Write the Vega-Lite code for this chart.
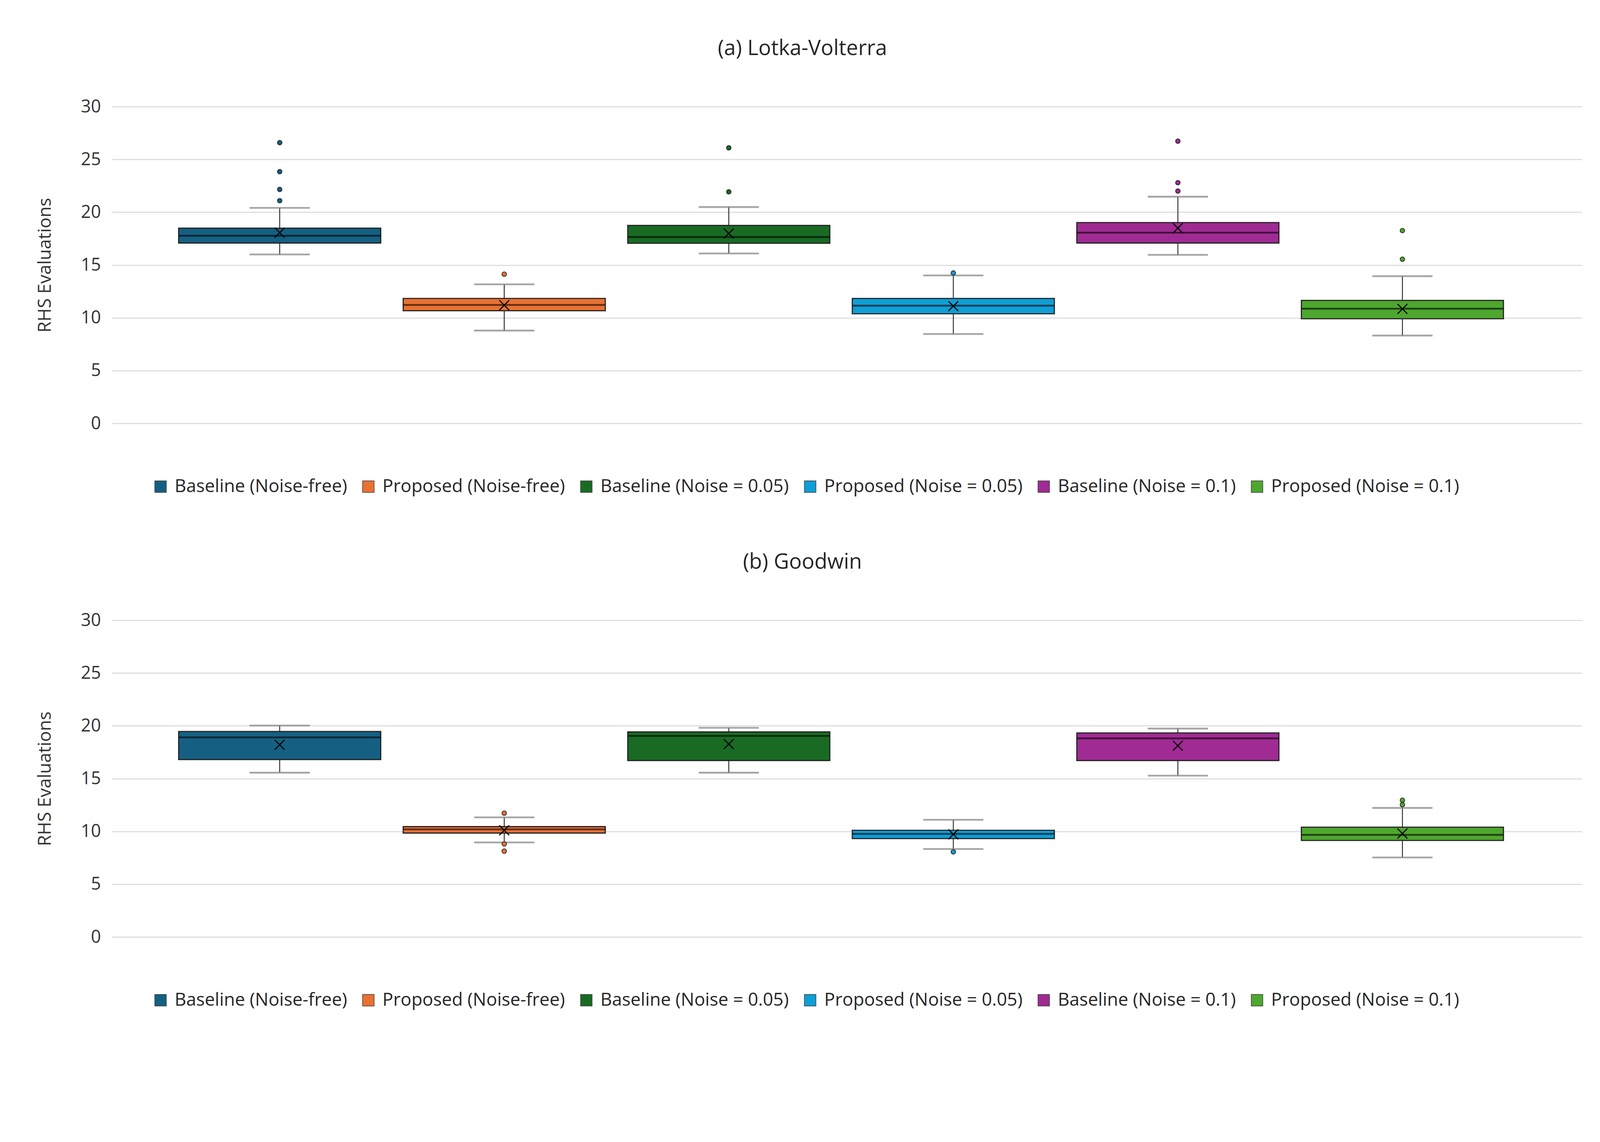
{
  "$schema": "https://vega.github.io/schema/vega-lite/v6.json",
  "background": "white",
  "padding": {"left": 92, "top": 98, "right": 20, "bottom": 30},
  "datasets": {
    "boxes": [
      {"panel": "LV", "series": "Baseline (Noise-free)", "lo": 16.0, "q1": 17.08, "med": 17.77, "q3": 18.49, "hi": 20.41, "mean": 18.06},
      {"panel": "LV", "series": "Proposed (Noise-free)", "lo": 8.79, "q1": 10.67, "med": 11.22, "q3": 11.83, "hi": 13.17, "mean": 11.19},
      {"panel": "LV", "series": "Baseline (Noise = 0.05)", "lo": 16.09, "q1": 17.06, "med": 17.65, "q3": 18.75, "hi": 20.49, "mean": 17.98},
      {"panel": "LV", "series": "Proposed (Noise = 0.05)", "lo": 8.46, "q1": 10.38, "med": 11.15, "q3": 11.83, "hi": 14.01, "mean": 11.1},
      {"panel": "LV", "series": "Baseline (Noise = 0.1)", "lo": 15.96, "q1": 17.08, "med": 18.06, "q3": 19.02, "hi": 21.47, "mean": 18.49},
      {"panel": "LV", "series": "Proposed (Noise = 0.1)", "lo": 8.32, "q1": 9.91, "med": 10.86, "q3": 11.65, "hi": 13.94, "mean": 10.84},
      {"panel": "G", "series": "Baseline (Noise-free)", "lo": 15.56, "q1": 16.8, "med": 18.9, "q3": 19.46, "hi": 20.02, "mean": 18.2},
      {"panel": "G", "series": "Proposed (Noise-free)", "lo": 8.95, "q1": 9.84, "med": 10.19, "q3": 10.45, "hi": 11.33, "mean": 10.1},
      {"panel": "G", "series": "Baseline (Noise = 0.05)", "lo": 15.56, "q1": 16.71, "med": 19.04, "q3": 19.42, "hi": 19.81, "mean": 18.27},
      {"panel": "G", "series": "Proposed (Noise = 0.05)", "lo": 8.33, "q1": 9.32, "med": 9.76, "q3": 10.1, "hi": 11.1, "mean": 9.72},
      {"panel": "G", "series": "Baseline (Noise = 0.1)", "lo": 15.28, "q1": 16.71, "med": 18.81, "q3": 19.32, "hi": 19.74, "mean": 18.11},
      {"panel": "G", "series": "Proposed (Noise = 0.1)", "lo": 7.53, "q1": 9.14, "med": 9.67, "q3": 10.4, "hi": 12.22, "mean": 9.8}
    ],
    "outliers": [
      {"panel": "LV", "series": "Baseline (Noise-free)", "value": 26.59},
      {"panel": "LV", "series": "Baseline (Noise-free)", "value": 23.84},
      {"panel": "LV", "series": "Baseline (Noise-free)", "value": 22.16},
      {"panel": "LV", "series": "Baseline (Noise-free)", "value": 21.09},
      {"panel": "LV", "series": "Proposed (Noise-free)", "value": 14.13},
      {"panel": "LV", "series": "Baseline (Noise = 0.05)", "value": 26.1},
      {"panel": "LV", "series": "Baseline (Noise = 0.05)", "value": 21.93},
      {"panel": "LV", "series": "Proposed (Noise = 0.05)", "value": 14.24},
      {"panel": "LV", "series": "Baseline (Noise = 0.1)", "value": 26.73},
      {"panel": "LV", "series": "Baseline (Noise = 0.1)", "value": 22.8},
      {"panel": "LV", "series": "Baseline (Noise = 0.1)", "value": 22.0},
      {"panel": "LV", "series": "Proposed (Noise = 0.1)", "value": 18.26},
      {"panel": "LV", "series": "Proposed (Noise = 0.1)", "value": 15.55},
      {"panel": "G", "series": "Proposed (Noise-free)", "value": 11.73},
      {"panel": "G", "series": "Proposed (Noise-free)", "value": 8.81},
      {"panel": "G", "series": "Proposed (Noise-free)", "value": 8.13},
      {"panel": "G", "series": "Proposed (Noise = 0.05)", "value": 8.06},
      {"panel": "G", "series": "Proposed (Noise = 0.1)", "value": 12.95},
      {"panel": "G", "series": "Proposed (Noise = 0.1)", "value": 12.52}
    ]
  },
  "vconcat": [
    {
      "title": {"text": "(a) Lotka-Volterra"},
      "width": 3764,
      "height": 811,
      "layer": [
        {
          "data": {"name": "boxes"},
          "transform": [{"filter": "datum.panel === 'LV'"}],
          "mark": {"type": "rule", "color": "#262626", "strokeWidth": 2.3},
          "encoding": {
            "x": {"field": "series", "type": "nominal", "sort": null, "axis": null, "scale": {"paddingInner": 0.1, "paddingOuter": 0.324, "align": 0.46}},
            "y": {"field": "lo", "type": "quantitative", "scale": {"domain": [0, 30]}, "axis": {"title": "RHS Evaluations", "values": [0, 5, 10, 15, 20, 25, 30]}},
            "y2": {"field": "hi"}
          }
        },
        {
          "data": {"name": "boxes"},
          "transform": [{"filter": "datum.panel === 'LV'"}],
          "mark": {"type": "tick", "color": "#808080", "thickness": 4.6, "size": 154},
          "encoding": {"x": {"field": "series", "type": "nominal", "sort": null}, "y": {"field": "lo", "type": "quantitative"}}
        },
        {
          "data": {"name": "boxes"},
          "transform": [{"filter": "datum.panel === 'LV'"}],
          "mark": {"type": "tick", "color": "#808080", "thickness": 4.6, "size": 154},
          "encoding": {"x": {"field": "series", "type": "nominal", "sort": null}, "y": {"field": "hi", "type": "quantitative"}}
        },
        {
          "data": {"name": "boxes"},
          "transform": [{"filter": "datum.panel === 'LV'"}],
          "mark": {"type": "bar", "stroke": "#1f1f1f", "strokeWidth": 2.8},
          "encoding": {
            "x": {"field": "series", "type": "nominal", "sort": null},
            "y": {"field": "q1", "type": "quantitative"},
            "y2": {"field": "q3"},
            "fill": {"field": "series", "type": "nominal", "sort": null, "scale": {"range": ["#156082", "#E97132", "#196B24", "#0F9ED5", "#A02B93", "#4EA72E"]}, "legend": {"title": null, "symbolType": "square", "orient": "none", "legendX": 102, "legendY": 950}}
          }
        },
        {
          "data": {"name": "boxes"},
          "transform": [{"filter": "datum.panel === 'LV'"}],
          "mark": {"type": "tick", "color": "#000000", "opacity": 0.6, "thickness": 4.6, "size": 516},
          "encoding": {"x": {"field": "series", "type": "nominal", "sort": null}, "y": {"field": "med", "type": "quantitative"}}
        },
        {
          "data": {"name": "outliers"},
          "transform": [{"filter": "datum.panel === 'LV'"}],
          "mark": {"type": "point", "shape": "circle", "filled": true, "size": 135, "stroke": "#1f1f1f", "strokeWidth": 1.8, "opacity": 1},
          "encoding": {
            "x": {"field": "series", "type": "nominal", "sort": null},
            "y": {"field": "value", "type": "quantitative"},
            "fill": {"field": "series", "type": "nominal", "sort": null, "legend": null}
          }
        },
        {
          "data": {"name": "boxes"},
          "transform": [{"filter": "datum.panel === 'LV'"}],
          "mark": {"type": "point", "shape": "M-1,-1L1,1M1,-1L-1,1", "filled": false, "size": 640, "stroke": "#000000", "strokeWidth": 2.8, "opacity": 1},
          "encoding": {"x": {"field": "series", "type": "nominal", "sort": null}, "y": {"field": "mean", "type": "quantitative"}}
        }
      ]
    },
    {
      "title": {"text": "(b) Goodwin"},
      "width": 3764,
      "height": 811,
      "layer": [
        {
          "data": {"name": "boxes"},
          "transform": [{"filter": "datum.panel === 'G'"}],
          "mark": {"type": "rule", "color": "#262626", "strokeWidth": 2.3},
          "encoding": {
            "x": {"field": "series", "type": "nominal", "sort": null, "axis": null, "scale": {"paddingInner": 0.1, "paddingOuter": 0.324, "align": 0.46}},
            "y": {"field": "lo", "type": "quantitative", "scale": {"domain": [0, 30]}, "axis": {"title": "RHS Evaluations", "values": [0, 5, 10, 15, 20, 25, 30]}},
            "y2": {"field": "hi"}
          }
        },
        {
          "data": {"name": "boxes"},
          "transform": [{"filter": "datum.panel === 'G'"}],
          "mark": {"type": "tick", "color": "#808080", "thickness": 4.6, "size": 154},
          "encoding": {"x": {"field": "series", "type": "nominal", "sort": null}, "y": {"field": "lo", "type": "quantitative"}}
        },
        {
          "data": {"name": "boxes"},
          "transform": [{"filter": "datum.panel === 'G'"}],
          "mark": {"type": "tick", "color": "#808080", "thickness": 4.6, "size": 154},
          "encoding": {"x": {"field": "series", "type": "nominal", "sort": null}, "y": {"field": "hi", "type": "quantitative"}}
        },
        {
          "data": {"name": "boxes"},
          "transform": [{"filter": "datum.panel === 'G'"}],
          "mark": {"type": "bar", "stroke": "#1f1f1f", "strokeWidth": 2.8},
          "encoding": {
            "x": {"field": "series", "type": "nominal", "sort": null},
            "y": {"field": "q1", "type": "quantitative"},
            "y2": {"field": "q3"},
            "fill": {"field": "series", "type": "nominal", "sort": null, "scale": {"range": ["#156082", "#E97132", "#196B24", "#0F9ED5", "#A02B93", "#4EA72E"]}, "legend": {"title": null, "symbolType": "square", "orient": "none", "legendX": 102, "legendY": 950}}
          }
        },
        {
          "data": {"name": "boxes"},
          "transform": [{"filter": "datum.panel === 'G'"}],
          "mark": {"type": "tick", "color": "#000000", "opacity": 0.6, "thickness": 4.6, "size": 516},
          "encoding": {"x": {"field": "series", "type": "nominal", "sort": null}, "y": {"field": "med", "type": "quantitative"}}
        },
        {
          "data": {"name": "outliers"},
          "transform": [{"filter": "datum.panel === 'G'"}],
          "mark": {"type": "point", "shape": "circle", "filled": true, "size": 135, "stroke": "#1f1f1f", "strokeWidth": 1.8, "opacity": 1},
          "encoding": {
            "x": {"field": "series", "type": "nominal", "sort": null},
            "y": {"field": "value", "type": "quantitative"},
            "fill": {"field": "series", "type": "nominal", "sort": null, "legend": null}
          }
        },
        {
          "data": {"name": "boxes"},
          "transform": [{"filter": "datum.panel === 'G'"}],
          "mark": {"type": "point", "shape": "M-1,-1L1,1M1,-1L-1,1", "filled": false, "size": 640, "stroke": "#000000", "strokeWidth": 2.8, "opacity": 1},
          "encoding": {"x": {"field": "series", "type": "nominal", "sort": null}, "y": {"field": "mean", "type": "quantitative"}}
        }
      ]
    }
  ],
  "spacing": 144,
  "resolve": {"scale": {"fill": "independent", "x": "independent", "y": "independent"}, "legend": {"fill": "independent"}},
  "config": {
    "font": "Open Sans",
    "view": {"stroke": null},
    "title": {"fontSize": 54, "fontWeight": "normal", "color": "#262626", "offset": 99, "anchor": "middle", "frame": "bounds", "dx": -17},
    "axis": {
      "labelFontSize": 45, "labelColor": "#333333", "labelPadding": 28,
      "titleFontSize": 46, "titleFontWeight": "normal", "titleColor": "#333333", "titlePadding": 67,
      "domain": false, "ticks": false, "grid": true, "gridColor": "#D9D9D9", "gridWidth": 2.3
    },
    "legend": {
      "direction": "horizontal",
      "labelFontSize": 46, "labelColor": "#262626", "labelLimit": 2000, "labelOffset": 13,
      "symbolType": "square", "symbolSize": 870, "symbolStrokeColor": "#333333", "symbolStrokeWidth": 1.4,
      "columnPadding": 31
    }
  }
}
